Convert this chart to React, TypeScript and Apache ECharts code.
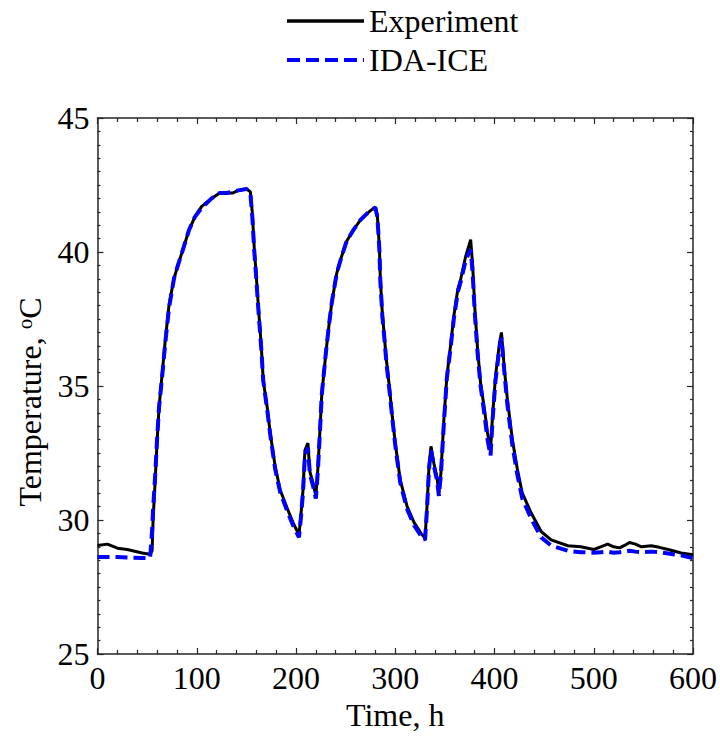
import React, { useEffect, useRef } from "react";
import * as echarts from "echarts";

const seriesNames = ["Experiment", "IDA-ICE"];
const xTickValues = [0, 100, 200, 300, 400, 500, 600];
const yTickValues = [25, 30, 35, 40, 45];

const times = [
  0, 10, 20, 30, 45, 53, 55, 56, 58, 60, 62, 65, 68, 72, 77, 81, 87, 92, 98, 105,
  115, 123, 130, 136, 142, 150, 154, 156, 158, 160, 162, 165, 167, 171, 174, 179,
  184, 191, 197, 203, 205, 207, 209, 212, 214, 217, 220, 222, 224, 226, 230, 233,
  236, 241, 246, 251, 258, 265, 272, 277, 280, 282, 284, 285, 287, 289, 291, 294,
  297, 300, 305, 312, 319, 326, 330, 332, 334, 336, 339, 342, 344, 346, 349, 352,
  356, 359, 363, 366, 371, 376, 378, 380, 383, 386, 390, 393, 396, 398, 401, 405,
  407, 410, 413, 418, 423, 428, 437, 447, 457, 474, 487, 500, 507, 514, 520, 526,
  531, 536, 542, 548, 558, 566, 575, 588, 600,
];

const experiment = [
  29.05, 29.1, 28.95, 28.9, 28.77, 28.72, 28.85, 30.0, 31.4, 32.9, 34.2, 35.4, 36.6, 38.0, 39.0, 39.5, 40.2, 40.8, 41.3, 41.7,
  42.0, 42.2, 42.2, 42.2, 42.3, 42.35, 42.25, 41.45, 40.1, 39.1, 38.0, 36.5, 35.2, 34.2, 33.25, 32.0,
  31.13, 30.45, 29.9, 29.45, 30.2, 31.1, 32.6, 32.87, 31.8, 31.4, 30.9, 31.9, 33.25, 34.7, 36.2, 37.2,
  38.1, 39.2, 39.84, 40.4, 40.83, 41.2, 41.45, 41.6, 41.68, 41.33, 40.2, 38.97, 37.7, 36.85, 36.0, 35.0,
  33.87, 32.87, 31.5, 30.5, 29.9, 29.5, 29.33, 30.5, 32.0, 32.75, 32.1, 31.6, 31.0, 31.75, 33.74, 35.36,
  36.6, 37.6, 38.6, 39.0, 39.84, 40.46, 39.5, 38.0, 36.35, 35.1, 34.1, 33.25, 32.6, 33.87, 35.36, 36.6,
  37.0, 35.6, 34.5, 33.0, 31.9, 31.0, 30.26, 29.57, 29.26, 29.04, 29.0, 28.9, 29.0, 29.1, 29.0, 28.96,
  29.05, 29.16, 29.1, 29.0, 29.04, 28.98, 28.9, 28.77, 28.7,
];

const idaIce = [
  28.62, 28.62, 28.62, 28.6, 28.58, 28.58, 29.6, 30.4, 31.6, 33.0, 34.2, 35.3, 36.5, 37.9, 39.0, 39.5, 40.2, 40.8, 41.3, 41.65,
  42.0, 42.2, 42.2, 42.25, 42.3, 42.35, 42.2, 41.3, 40.0, 39.0, 37.9, 36.4, 35.2, 34.1, 33.2, 31.9,
  31.05, 30.35, 29.8, 29.35, 30.1, 31.0, 32.4, 32.7, 31.7, 31.3, 30.8, 31.8, 33.2, 34.7, 36.2, 37.2,
  38.1, 39.2, 39.84, 40.4, 40.83, 41.2, 41.45, 41.6, 41.65, 41.3, 40.1, 38.9, 37.6, 36.8, 35.9, 34.9,
  33.8, 32.8, 31.4, 30.4, 29.8, 29.4, 29.25, 30.4, 31.9, 32.6, 32.0, 31.5, 30.9, 31.7, 33.6, 35.3,
  36.5, 37.5, 38.5, 38.9, 39.7, 40.1, 39.2, 37.8, 36.2, 35.0, 33.9, 33.0, 32.4, 33.7, 35.2, 36.4,
  36.8, 35.5, 34.3, 32.8, 31.7, 30.8, 30.05, 29.35, 29.05, 28.85, 28.8, 28.78, 28.8, 28.82, 28.78, 28.8,
  28.82, 28.85, 28.82, 28.8, 28.82, 28.8, 28.75, 28.68, 28.58,
];

const FONT = '"Liberation Serif", "Times New Roman", serif';
const AXIS_COLOR = "#262626";

export default function App() {
  const ref = useRef<HTMLDivElement>(null);

  useEffect(() => {
    if (!ref.current) return;
    const chart = echarts.init(ref.current, undefined, { renderer: "svg" });

    const xMin = xTickValues[0];
    const xMax = xTickValues[xTickValues.length - 1];
    const xInt = xTickValues[1] - xTickValues[0];
    const yMin = yTickValues[0];
    const yMax = yTickValues[yTickValues.length - 1];
    const yInt = yTickValues[1] - yTickValues[0];

    const xBase = {
      type: "value" as const,
      min: xMin,
      max: xMax,
      interval: xInt,
      axisLine: { show: true, onZero: false, lineStyle: { color: AXIS_COLOR, width: 1.5 } },
      axisTick: { show: true, inside: true, length: 6, lineStyle: { color: AXIS_COLOR, width: 1.2 } },
      minorTick: { show: true, splitNumber: 5, length: 4, lineStyle: { color: AXIS_COLOR, width: 1.2 } },
      splitLine: { show: false },
      minorSplitLine: { show: false },
    };
    const yBase = {
      type: "value" as const,
      min: yMin,
      max: yMax,
      interval: yInt,
      axisLine: { show: true, onZero: false, lineStyle: { color: AXIS_COLOR, width: 1.5 } },
      axisTick: { show: true, inside: true, length: 6, lineStyle: { color: AXIS_COLOR, width: 1.2 } },
      minorTick: { show: true, splitNumber: 10, length: 3, lineStyle: { color: AXIS_COLOR, width: 1.2 } },
      splitLine: { show: false },
      minorSplitLine: { show: false },
    };

    chart.setOption({
      animation: false,
      backgroundColor: "#fff",
      textStyle: { fontFamily: FONT },
      grid: { left: 97.5, top: 118, right: 26, bottom: 82, containLabel: false },
      legend: {
        orient: "vertical",
        left: 280,
        top: 0,
        itemWidth: 77,
        itemHeight: 14,
        itemGap: 7,
        itemStyle: { opacity: 0 },
        data: [
          { name: seriesNames[0], lineStyle: { color: "#000", width: 3.5 } },
          { name: seriesNames[1], lineStyle: { color: "#0000ff", width: 4, type: [13, 6] } },
        ],
        textStyle: { fontFamily: FONT, fontSize: 32, color: "#000", lineHeight: 30 },
      },
      graphic: [
        {
          type: "text",
          x: 30,
          y: 402,
          rotation: Math.PI / 2,
          style: {
            text: "{a|Temperature, }{sup|o}{a|C}",
            align: "center",
            verticalAlign: "middle",
            fill: "#000",
            rich: {
              a: { fontFamily: FONT, fontSize: 32, fill: "#000" },
              sup: { fontFamily: FONT, fontSize: 21, fill: "#000", verticalAlign: "top" },
            },
          },
        },
      ],
      xAxis: [
        {
          ...xBase,
          position: "bottom",
          name: "Time, h",
          nameLocation: "middle",
          nameGap: 36,
          nameTextStyle: { fontFamily: FONT, fontSize: 32, color: "#000" },
          axisLabel: { show: true, margin: 8, fontFamily: FONT, fontSize: 32, color: "#000" },
        },
        { ...xBase, position: "top", axisLabel: { show: false } },
      ],
      yAxis: [
        {
          ...yBase,
          position: "left",
          axisLabel: { show: true, margin: 8, fontFamily: FONT, fontSize: 32, color: "#000" },
        },
        { ...yBase, position: "right", axisLabel: { show: false } },
      ],
      series: [
        {
          name: seriesNames[0],
          type: "line",
          symbol: "none",
          data: times.map((t, i) => [t, experiment[i]]),
          lineStyle: { color: "#000", width: 3 },
          itemStyle: { color: "#000" },
          z: 2,
        },
        {
          name: seriesNames[1],
          type: "line",
          symbol: "none",
          data: times.map((t, i) => [t, idaIce[i]]),
          lineStyle: { color: "#0000ff", width: 4, type: [12, 6] },
          itemStyle: { color: "#0000ff" },
          z: 3,
        },
      ],
    });

    return () => chart.dispose();
  }, []);

  return (
    <div
      ref={ref}
      style={{ position: "fixed", left: 0, top: 0, width: 720, height: 736, background: "#fff" }}
    />
  );
}
